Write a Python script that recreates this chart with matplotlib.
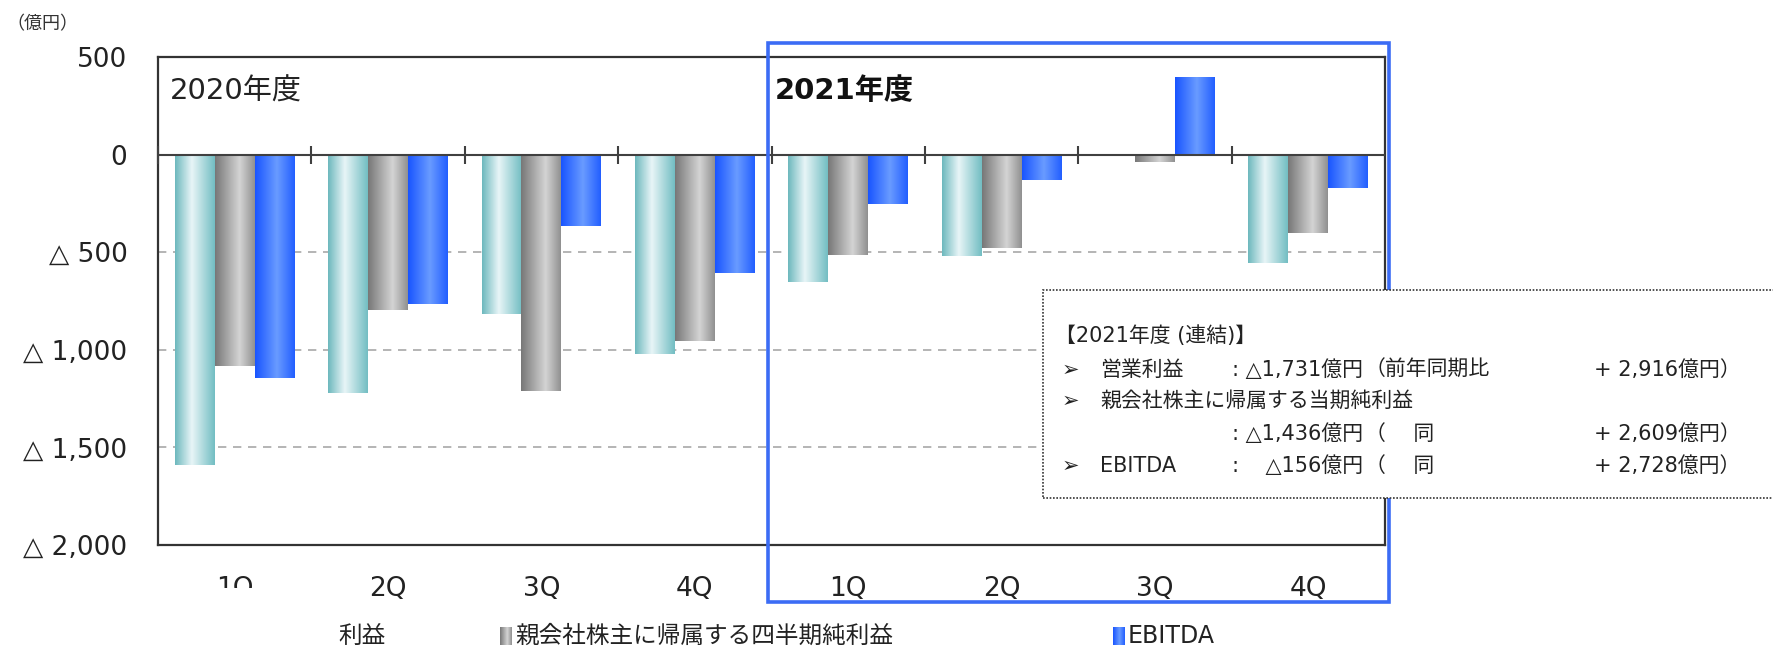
import numpy as np
import matplotlib
matplotlib.use("Agg")
import matplotlib.pyplot as plt
from matplotlib.patches import Rectangle

plt.rcParams['font.family'] = ['DejaVu Sans', 'Noto Sans CJK JP']

# data (億円)
quarters = ["1Q", "2Q", "3Q", "4Q", "1Q", "2Q", "3Q", "4Q"]
operating = [-1590, -1220, -815, -1022, -655, -522, 3, -557]
net_income = [-1085, -797, -1210, -953, -514, -481, -38, -403]
ebitda = [-1146, -765, -366, -607, -254, -132, 400, -170]
yticks = [500, 0, -500, -1000, -1500, -2000]
ytick_labels = ["500", "0", "△ 500", "△ 1,000", "△ 1,500", "△ 2,000"]

W, H = 1773, 651


def fx(px):
    return px / W


def fy(py):
    return 1 - py / H


def gradient(stops, n=64):
    pos = np.array([s[0] for s in stops])
    cols = np.array([s[1] for s in stops]) / 255.0
    t = np.linspace(0, 1, n)
    g = np.stack([np.interp(t, pos, cols[:, k]) for k in range(3)], axis=-1)
    return g[np.newaxis, :, :]


grad_cyan = gradient([(0, (110, 185, 190)), (0.42, (232, 245, 247)), (1, (115, 190, 195))])
grad_gray = gradient([(0, (120, 120, 120)), (0.62, (212, 212, 212)), (1, (145, 145, 145))])
grad_blue = gradient([(0, (25, 85, 255)), (0.55, (105, 155, 255)), (1, (35, 95, 255))])

fig = plt.figure(figsize=(W / 100, H / 100), dpi=100)
ax = fig.add_axes([fx(158), fy(545), fx(1385 - 158), (545 - 57) / H])

x = np.arange(len(quarters))
bw = 0.26
series = [(operating, -bw, grad_cyan), (net_income, 0, grad_gray), (ebitda, bw, grad_blue)]
for vals, off, grad in series:
    bars = ax.bar(x + off, vals, width=bw, color='none', edgecolor='none', zorder=3)
    for b in bars:
        x0, y0 = b.get_x(), b.get_y()
        x1, y1 = x0 + b.get_width(), y0 + b.get_height()
        im = ax.imshow(grad, extent=[x0, x1, min(y0, y1), max(y0, y1)],
                       aspect='auto', interpolation='bilinear', zorder=3)
        im.set_clip_path(b)

ax.set_xlim(-0.5, len(quarters) - 0.5)
ax.set_ylim(-2000, 500)

# dashed grid
for gy in [-500, -1000, -1500]:
    ax.axhline(gy, color='#a8a8a8', lw=1.2, ls=(0, (5, 4)), zorder=1)
# zero line with group separator marks
ax.axhline(0, color='#404040', lw=1.5, zorder=4)
ax.plot(np.arange(-0.5, len(quarters), 1.0)[:-1], np.zeros(len(quarters)), ls='none',
        marker='|', ms=13, mew=1.5, color='#404040', zorder=4, clip_on=False)

ax.set_yticks(yticks)
ax.set_yticklabels(ytick_labels, fontsize=19, color='#222222')
ax.set_xticks(x)
ax.set_xticklabels(quarters, fontsize=19, color='#222222')
ax.tick_params(axis='both', length=0)
ax.tick_params(axis='y', pad=22)
ax.tick_params(axis='x', pad=22)
for s in ax.spines.values():
    s.set_color('#333333')
    s.set_linewidth(1.6)

ax.text(0.01, 0.93, "2020年度", transform=ax.transAxes, fontsize=21, color='#222222', va='center')
ax.text(0.503, 0.93, "2021年度", transform=ax.transAxes, fontsize=21, color='#111111',
        fontweight='bold', va='center')

fig.text(fx(6), fy(24), "（億円）", fontsize=13, color='#333333', va='center')

# hide lower half of the first tick label as in the source
fig.patches.append(Rectangle((fx(195), fy(610)), fx(85), 22 / H, transform=fig.transFigure,
                             facecolor='white', edgecolor='none', zorder=10))

# blue frame around FY2021
fig.patches.append(Rectangle((fx(768), fy(602)), fx(1389 - 768), (602 - 43) / H,
                             transform=fig.transFigure, fill=False, edgecolor='#3b6cf5',
                             lw=2.6, zorder=11))

# summary box
fig.patches.append(Rectangle((fx(1043), fy(498)), fx(W + 10 - 1043), (498 - 290) / H,
                             transform=fig.transFigure, facecolor='white', edgecolor='#333333',
                             lw=1.2, ls=(0, (1, 1)), zorder=12))
tk = dict(fontsize=15, color='#222222', va='center', zorder=13)
fig.text(fx(1055), fy(336), "【2021年度 (連結)】", **tk)
rows = [
    (370, "➢", "営業利益", ": △1,731億円", "（前年同期比", "+ 2,916億円）"),
    (401, "➢", "親会社株主に帰属する当期純利益", None, None, None),
    (434, None, None, ": △1,436億円", "（　 同", "+ 2,609億円）"),
    (466, "➢", "EBITDA", ":    △156億円", "（　 同", "+ 2,728億円）"),
]
for yy, arrow, label, val, mid, diff in rows:
    if arrow:
        fig.text(fx(1062), fy(yy), arrow, **tk)
    if label:
        fig.text(fx(1100), fy(yy), label, **tk)
    if val:
        fig.text(fx(1232), fy(yy), val, **tk)
    if mid:
        fig.text(fx(1365), fy(yy), mid, **tk)
    if diff:
        fig.text(fx(1594), fy(yy), diff, **tk)

# legend along the bottom edge
lk = dict(fontsize=17, color='#222222', va='center')
fig.text(fx(338), fy(636), "利益", **lk)
for px, grad, label in [(500, grad_gray, "親会社株主に帰属する四半期純利益"), (1113, grad_blue, "EBITDA")]:
    lax = fig.add_axes([fx(px), fy(645), fx(12), 18 / H])
    lax.imshow(grad, aspect='auto', interpolation='bilinear')
    lax.axis('off')
    fig.text(fx(px + 15), fy(636), label, **lk)

fig.savefig("out.png", dpi=100, facecolor='white')
